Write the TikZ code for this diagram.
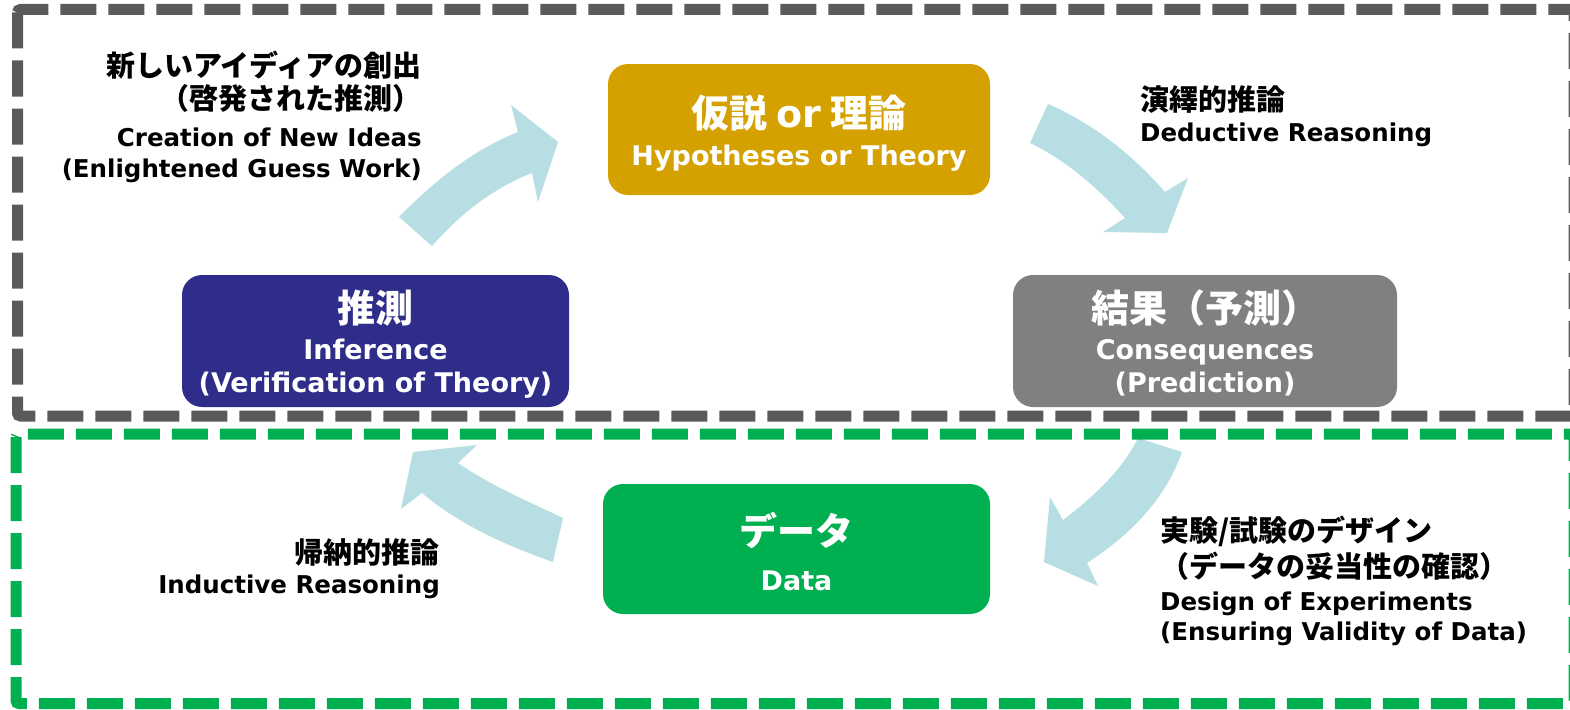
\documentclass[tikz,border=0pt]{standalone}
\usepackage{fontspec}
\setmainfont{DejaVu Sans}
\newfontfamily\jp{Noto Sans CJK JP}
\definecolor{theorygold}{RGB}{212,161,0}
\definecolor{infnavy}{RGB}{46,46,138}
\definecolor{consgray}{RGB}{128,128,128}
\definecolor{datagreen}{RGB}{0,176,80}
\definecolor{framegray}{RGB}{90,90,90}
\definecolor{flowblue}{RGB}{183,222,226}
\begin{document}
\begin{tikzpicture}[x=1pt,y=-1pt,
  card/.style={rounded corners=20pt, inner sep=0pt},
  jpout/.style={font=\jp\bfseries\fontsize{29}{35}\selectfont, inner sep=0pt},
  enout/.style={font=\bfseries\fontsize{24.5}{30}\selectfont, inner sep=0pt},
  jpbox/.style={font=\jp\bfseries\fontsize{38}{44}\selectfont, text=white, inner sep=0pt},
  enbox/.style={font=\bfseries\fontsize{27}{32}\selectfont, text=white, inner sep=0pt},
  flow/.style={fill=flowblue, draw=none},
  frame/.style={line width=11pt, dash pattern=on 36pt off 12pt, rounded corners=3pt}]
\useasboundingbox (0,0) rectangle (1570,709);

% curved block arrows of the cycle
\fill[flow] (399,217) .. controls (440,175) and (478,148) .. (518,132)
  -- (511,105) -- (558,142) -- (538,202) -- (532,173)
  .. controls (494,188) and (462,212) .. (432,246) -- cycle;
\fill[flow] (1048,104) .. controls (1090,122) and (1130,152) .. (1165,192)
  -- (1188,178) -- (1167,233) -- (1103,232) -- (1125,218)
  .. controls (1095,185) and (1065,160) .. (1030,143) -- cycle;
\fill[flow] (1182,452) .. controls (1165,500) and (1130,535) .. (1087,563)
  -- (1098,586) -- (1044,562) -- (1050,497) -- (1063,520)
  .. controls (1100,492) and (1125,465) .. (1138,438) -- cycle;
\fill[flow] (563,518) .. controls (525,500) and (490,485) .. (458,463)
  -- (477,445) -- (413,452) -- (401,509) -- (422,493)
  .. controls (460,525) and (505,545) .. (553,562) -- cycle;

% boxes
\node[card, fill=theorygold, minimum width=382pt, minimum height=131pt] (hyp) at (799,129.5) {};
\node[card, fill=infnavy, minimum width=387pt, minimum height=132pt] (inf) at (375.5,341) {};
\node[card, fill=consgray, minimum width=384pt, minimum height=132pt] (cons) at (1205,341) {};
\node[card, fill=datagreen, minimum width=387pt, minimum height=130pt] (data) at (796.5,549) {};

% box labels
\node[jpbox, anchor=base] (hypjp) at (799,127) {仮説 {\rmfamily or} 理論};
\node[enbox, anchor=base] (hypen) at (799,165) {Hypotheses or Theory};
\node[jpbox, anchor=base] (infjp) at (375.5,322) {推測};
\node[enbox, anchor=base] (infen) at (375.5,359) {Inference};
\node[enbox, anchor=base] (infsub) at (375.5,392) {(Verification of Theory)};
\node[jpbox, anchor=base] (consjp) at (1205,322) {結果（予測）};
\node[enbox, anchor=base] (consen) at (1205,359) {Consequences};
\node[enbox, anchor=base] (conssub) at (1205,392) {(Prediction)};
\node[jpbox, anchor=base] (datajp) at (796.5,545) {データ};
\node[enbox, anchor=base] (dataen) at (796.5,590) {Data};

% step labels
\node[jpout, anchor=base east] (crjp1) at (422,76) {新しいアイディアの創出};
\node[jpout, anchor=base east] (crjp2) at (422,109) {（啓発された推測）};
\node[enout, anchor=base east] (cren1) at (422,146) {Creation of New Ideas};
\node[enout, anchor=base east] (cren2) at (422,177) {(Enlightened Guess Work)};

\node[jpout, anchor=base west] (dedjp) at (1140,110) {演繹的推論};
\node[enout, anchor=base west] (deden) at (1140,141) {Deductive Reasoning};

\node[jpout, anchor=base east] (indjp) at (440,563) {帰納的推論};
\node[enout, anchor=base east] (inden) at (440,593) {Inductive Reasoning};

\node[jpout, anchor=base west] (dsjp1) at (1160,541) {実験/試験のデザイン};
\node[jpout, anchor=base west] (dsjp2) at (1160,577) {（データの妥当性の確認）};
\node[enout, anchor=base west] (dsen1) at (1160,610) {Design of Experiments};
\node[enout, anchor=base west] (dsen2) at (1160,640) {(Ensuring Validity of Data)};

% dashed frames around the two stages
\draw[frame, framegray] (17.5,9.5) rectangle (1574,416);
\draw[frame, datagreen] (16,434) rectangle (1574,703.5);
\end{tikzpicture}
\end{document}
